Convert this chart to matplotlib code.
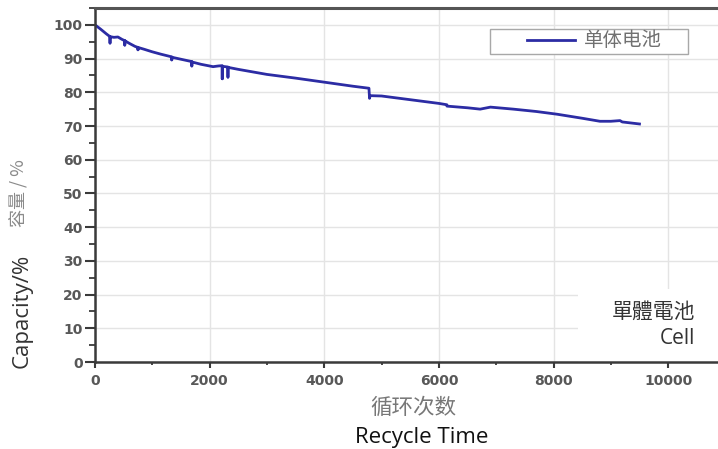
import matplotlib
matplotlib.use('Agg')
import matplotlib.pyplot as plt
from matplotlib.patches import Rectangle
from matplotlib.ticker import MultipleLocator

plt.rcParams['font.family'] = ['DejaVu Sans', 'Noto Sans CJK SC']

# 循环次数 / 容量 (读图估计, 同一x重复表示尖峰)
cycles = [0, 100, 200, 262, 262, 262, 330, 400, 470, 520, 520, 520, 600, 700,
          750, 750, 750, 850, 1000, 1150, 1340, 1340, 1340, 1500, 1690, 1690,
          1690, 1850, 2060, 2150, 2220, 2220, 2220, 2270, 2320, 2320, 2320,
          2500, 3000, 3500, 4000, 4500, 4780, 4790, 4800, 5000, 5500, 6000,
          6140, 6140, 6500, 6720, 6900, 7300, 7700, 8060, 8500, 8810, 9000,
          9160, 9200, 9500]
capacity = [100.0, 98.7, 97.3, 96.5, 94.6, 96.5, 96.3, 96.4, 95.7, 95.3, 94.0,
            95.3, 94.5, 93.6, 93.3, 92.6, 93.3, 92.8, 92.0, 91.3, 90.5, 89.6,
            90.4, 89.8, 89.1, 87.8, 89.0, 88.3, 87.6, 87.8, 87.9, 84.0, 87.7,
            87.6, 87.5, 84.5, 87.4, 86.8, 85.3, 84.2, 83.0, 81.8, 81.2, 78.2,
            79.0, 78.9, 77.8, 76.7, 76.3, 75.9, 75.4, 75.0, 75.6, 75.0, 74.3,
            73.5, 72.3, 71.4, 71.4, 71.6, 71.2, 70.6]

legend_label = '单体电池'
x_major = [0, 2000, 4000, 6000, 8000, 10000]
y_major = [0, 10, 20, 30, 40, 50, 60, 70, 80, 90, 100]

fig = plt.figure(figsize=(7.18, 4.49), dpi=100)
ax = fig.add_axes([95 / 718, 87 / 449, 623 / 718, 354 / 449])

ax.plot(cycles, capacity, color='#2c2ca4', lw=2.0, label=legend_label)

ax.set_xlim(0, 10870)
ax.set_ylim(0, 105)
ax.set_xticks(x_major)
ax.set_yticks(y_major)
ax.xaxis.set_minor_locator(MultipleLocator(1000))
ax.yaxis.set_minor_locator(MultipleLocator(5))
ax.grid(True, which='major', color='#e4e4e4', lw=1.0)
ax.set_axisbelow(True)

for s in ['left', 'bottom']:
    ax.spines[s].set_color('#3a3a3a')
    ax.spines[s].set_linewidth(1.8)
ax.spines['top'].set_color('#555555')
ax.spines['top'].set_linewidth(2.2)
ax.spines['right'].set_visible(False)

ax.tick_params(which='both', top=False, right=False, direction='out',
               color='#3a3a3a', labelsize=10, labelcolor='#585858')
ax.tick_params(axis='y', which='major', length=7, width=1.5, pad=2)
ax.tick_params(axis='y', which='minor', length=4, width=1.3)
ax.tick_params(axis='x', which='major', length=4.5, width=1.5, pad=4)
ax.tick_params(axis='x', which='minor', length=2.5, width=1.3)
for lab in ax.get_xticklabels() + ax.get_yticklabels():
    lab.set_fontweight('bold')

# 图例 (框单独画)
ax.add_patch(Rectangle((490 / 718, 1 - 54 / 449), 198 / 718, 25 / 449,
                       transform=fig.transFigure, facecolor='white',
                       edgecolor='#a8a8a8', lw=1.0, zorder=4, clip_on=False))
leg = ax.legend(loc='center left', bbox_to_anchor=(527 / 718, 1 - 41 / 449),
                bbox_transform=fig.transFigure, frameon=False,
                prop={'family': 'Noto Sans CJK SC', 'size': 14},
                handlelength=2.45, borderpad=0, borderaxespad=0,
                handletextpad=0.5)
leg.set_zorder(5)
for t in leg.get_texts():
    t.set_color('#707070')

# 右下角白框
ax.add_patch(Rectangle((578 / 718, 87 / 449), 140 / 718, 73 / 449,
                       transform=fig.transFigure, facecolor='white',
                       edgecolor='none', zorder=1, clip_on=False))
fig.text(695 / 718, 1 - 312 / 449, '單體電池', ha='right', va='center',
         fontsize=15, color='#333333', family=['Noto Sans CJK TC'], zorder=6)
fig.text(695 / 718, 1 - 339 / 449, 'Cell', ha='right', va='center',
         fontsize=15, color='#333333', family=['Open Sans'], zorder=6)

fig.text(19 / 718, 1 - 193 / 449, '容量 / %', rotation=90, ha='center',
         va='center', fontsize=13, color='#8a8a8a',
         family=['Noto Sans CJK SC', 'DejaVu Sans'])
fig.text(22 / 718, 1 - 311 / 449, 'Capacity/%', rotation=90, ha='center',
         va='center', fontsize=16, color='#333333', family=['Open Sans'])
fig.text(413 / 718, 1 - 408 / 449, '循环次数', ha='center', va='center',
         fontsize=15.5, color='#777777', family=['Noto Sans CJK SC'])
fig.text(422 / 718, 1 - 438 / 449, 'Recycle Time', ha='center', va='center',
         fontsize=16, color='#111111', family=['Open Sans'])

fig.savefig('out.png', dpi=100)
